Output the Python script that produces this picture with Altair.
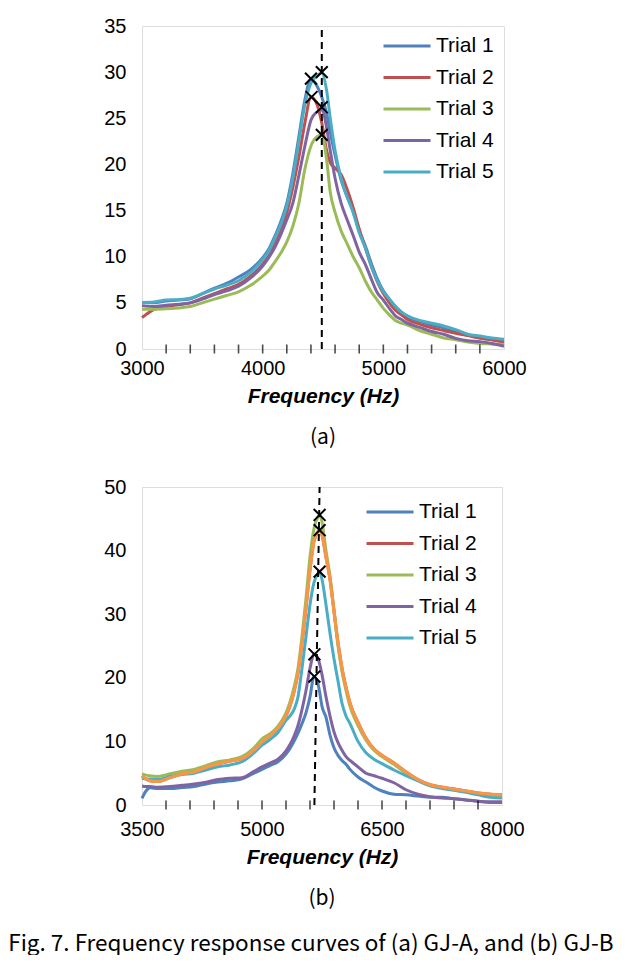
import altair as alt
import pandas as pd

trials = ["Trial 1", "Trial 2", "Trial 3", "Trial 4", "Trial 5"]
colors = ["#4F81BD", "#C0504D", "#9BBB59", "#8064A2", "#4BACC6"]
overlay_color = "#F79646"

# ---------- panel (a) GJ-A ----------
freq_a = [3000, 3100, 3200, 3300, 3400, 3500, 3600, 3700, 3800, 3900,
          4000, 4050, 4100, 4150, 4200, 4250, 4300, 4350, 4400, 4450, 4490,
          4530, 4560, 4600, 4650, 4700, 4750, 4800, 4850, 4900, 4950, 5000,
          5050, 5100, 5150, 5200,
          5300, 5400, 5500, 5600, 5700, 5800, 5900, 6000]
a_trial1 = [5.0, 5.0, 5.2, 5.3, 5.45, 6.0, 6.6, 7.1, 7.8, 8.6,
            9.9, 10.8, 12.2, 13.8, 15.8, 19.0, 23.0, 27.0, 29.25, 28.5, 27.3,
            25.5, 23.5, 21.0, 18.3, 16.5, 14.9, 12.8, 11.2, 9.3, 7.6, 6.3,
            5.4, 4.6, 4.0, 3.5,
            3.0, 2.6, 2.3, 1.9, 1.5, 1.2, 1.0, 0.9]
a_trial2 = [3.4, 4.3, 4.6, 4.8, 5.0, 5.5, 6.0, 6.5, 7.0, 7.9,
            9.2, 10.1, 11.3, 12.8, 14.8, 17.5, 20.8, 24.5, 27.3, 26.5, 24.5,
            21.5, 20.2, 19.6, 18.9, 17.3, 15.3, 13.0, 11.0, 9.0, 7.3, 6.0,
            5.0, 4.2, 3.7, 3.2,
            2.7, 2.3, 2.0, 1.7, 1.45, 1.2, 1.0, 0.7]
a_trial3 = [4.3, 4.3, 4.35, 4.45, 4.6, 5.0, 5.4, 5.8, 6.2, 6.9,
            7.9, 8.5, 9.4, 10.4, 11.6, 13.3, 15.8, 19.5, 22.0, 23.0, 23.2,
            20.5, 17.0, 14.8, 12.8, 11.4, 10.0, 8.8, 7.4, 6.2, 5.3, 4.4,
            3.7, 3.1, 2.8, 2.6,
            2.0, 1.6, 1.2, 1.0, 0.75, 0.6, 0.55, 0.5]
a_trial4 = [4.7, 4.6, 4.75, 4.85, 5.0, 5.4, 5.9, 6.3, 6.8, 7.7,
            9.0, 9.9, 11.0, 12.4, 14.0, 15.8, 18.8, 22.0, 24.8, 25.7, 25.9,
            24.0, 21.5, 18.5, 15.8, 14.0, 12.3, 10.5, 9.2, 7.6, 6.1, 5.3,
            4.4, 3.6, 3.2, 2.8,
            2.35, 1.9, 1.6, 1.15, 0.9, 0.8, 0.6, 0.3]
a_trial5 = [5.05, 5.1, 5.3, 5.35, 5.5, 6.0, 6.5, 6.9, 7.4, 8.3,
            9.7, 10.6, 12.0, 13.5, 15.5, 18.5, 22.5, 26.5, 28.8, 29.6, 29.9,
            28.0, 25.0, 21.5, 18.5, 16.5, 14.8, 12.6, 11.0, 9.0, 7.4, 6.2,
            5.4, 4.6, 4.0, 3.6,
            3.1, 2.8, 2.5, 2.1, 1.6, 1.4, 1.2, 1.05]
peak_a_freq = [4400, 4490, 4405, 4490, 4490]
peak_a_val = [29.3, 30.0, 27.3, 26.2, 23.2]
line_a = {"f_bottom": 4490, "f_top": 4490}
xticks_a_labels = [3000, 4000, 5000, 6000]
xticks_a_minor = [3200, 3400, 3600, 3800, 4000, 4200, 4400, 4600, 4800,
                  5000, 5200, 5400, 5600, 5800]
yticks_a = [0, 5, 10, 15, 20, 25, 30, 35]

# ---------- panel (b) GJ-B ----------
freq_b = [3500, 3550, 3600, 3700, 3850,
          4000, 4150, 4300, 4450, 4600, 4750, 4900,
          5000, 5100, 5200, 5300, 5350, 5400, 5450, 5500, 5550, 5600, 5650, 5700, 5720,
          5750, 5800, 5850, 5900, 5950, 6000, 6050, 6100,
          6200, 6300, 6400, 6500, 6650, 6800, 6950, 7100, 7250, 7400, 7550, 7700, 7850, 8000]
b_trial1 = [1.05, 2.2, 2.7, 2.6, 2.6,
            2.75, 2.9, 3.3, 3.6, 3.8, 4.1, 5.0,
            5.6, 6.2, 6.8, 8.0, 8.9, 10.0, 11.3, 12.8, 14.5, 17.0, 20.2, 19.0, 17.8,
            15.5, 13.8, 11.0, 9.0, 7.8, 7.0, 6.4, 5.6,
            4.4, 3.6, 2.8, 2.2, 1.7, 1.6, 1.4, 1.2, 1.2, 1.0, 0.8, 0.6, 0.4, 0.4]
b_trial2 = [4.56, 4.1, 3.8, 3.7, 4.3,
            4.9, 5.2, 5.9, 6.5, 6.9, 7.3, 8.6,
            9.9, 10.9, 12.1, 14.0, 15.6, 17.8, 20.8, 25.5, 31.0, 37.0, 41.5, 43.0, 43.2,
            42.5, 39.0, 35.5, 30.5, 25.5, 21.5, 18.5, 16.0,
            13.0, 10.5, 8.8, 7.8, 6.6, 5.2, 4.0, 3.2, 2.8, 2.5, 2.2, 1.9, 1.7, 1.6]
b_trial3 = [4.9, 4.7, 4.6, 4.5, 4.9,
            5.3, 5.6, 6.2, 6.8, 7.1, 7.6, 9.0,
            10.4, 11.2, 12.4, 14.5, 16.2, 18.5, 21.5, 26.5, 32.5, 39.0, 43.5, 45.3, 45.6,
            44.5, 40.0, 36.0, 30.5, 25.0, 21.0, 18.0, 15.5,
            12.5, 10.2, 8.6, 7.6, 6.4, 5.0, 3.9, 3.1, 2.7, 2.4, 2.1, 1.8, 1.5, 1.3]
b_trial4 = [3.0, 2.9, 2.9, 2.8, 2.9,
            3.1, 3.3, 3.6, 4.0, 4.2, 4.3, 5.3,
            6.0, 6.6, 7.2, 8.5, 9.5, 10.8, 12.5, 15.0, 18.0, 21.5, 23.7, 23.0, 22.2,
            20.5, 17.0, 14.0, 11.5, 9.8, 8.6, 7.6, 7.0,
            6.0, 5.0, 4.6, 4.2, 3.5, 2.4, 1.7, 1.3, 1.1, 1.0, 0.8, 0.6, 0.5, 0.5]
b_trial5 = [4.2, 4.1, 4.1, 4.0, 4.5,
            4.8, 5.0, 5.5, 6.0, 6.3, 6.8, 8.2,
            9.4, 10.3, 11.4, 13.3, 14.0, 15.0, 17.0, 21.5, 26.5, 31.5, 35.0, 36.4, 36.7,
            35.5, 31.5, 27.0, 23.0, 19.5, 16.0, 14.0, 12.8,
            10.0, 8.2, 7.2, 6.5, 5.5, 4.6, 3.8, 3.0, 2.6, 2.3, 2.0, 1.6, 1.2, 1.1]
peak_b_freq = [5720, 5720, 5720, 5655, 5655]
peak_b_val = [45.6, 43.2, 36.7, 23.7, 20.2]
line_b = {"f_bottom": 5655, "f_top": 5720}
xticks_b_labels = [3500, 5000, 6500, 8000]
xticks_b_minor = [3800, 4100, 4400, 4700, 5000, 5300, 5600, 5900, 6200,
                  6500, 6800, 7100, 7400, 7700]
yticks_b = [0, 10, 20, 30, 40, 50]

FONT = "Liberation Sans"
CAPFONT = "Noto Sans CJK KR"
X_PATH = "M-1,-1L1,1M-1,1L1,-1"


def long_df(freq, series):
    rows = []
    for name, vals in zip(trials, series):
        for f, v in zip(freq, vals):
            rows.append({"f": f, "v": v, "trial": name})
    return pd.DataFrame(rows)


def panel(freq, series, pk_f, pk_v, line, xlab, xminor, yvals, xdom, ydom,
          w, h, sub, leg_x, leg_y, lab_pad, overlay=None):
    df = long_df(freq, series)
    xs = alt.Scale(domain=xdom, nice=False, zero=False)
    ys = alt.Scale(domain=ydom, nice=False)
    xax = alt.Axis(values=xlab, format="d", title="Frequency (Hz)", grid=False,
                   ticks=False, domain=False, labelFontSize=20, labelColor="black",
                   labelFont=FONT, labelPadding=lab_pad, titleFont=FONT,
                   titleFontSize=21, titleFontStyle="italic", titleFontWeight="bold",
                   titleColor="black", titlePadding=7, labelFlush=False)
    yax = alt.Axis(values=yvals, title=None, grid=False, ticks=False, domain=False,
                   labelFontSize=20, labelColor="black", labelFont=FONT,
                   labelPadding=16, labelFlush=False)
    lines = alt.Chart(df).mark_line(strokeWidth=3, interpolate="monotone").encode(
        x=alt.X("f:Q", scale=xs, axis=xax),
        y=alt.Y("v:Q", scale=ys, axis=yax),
        color=alt.Color("trial:N", scale=alt.Scale(domain=trials, range=colors),
                        legend=alt.Legend(title=None, orient="none", legendX=leg_x,
                                          legendY=leg_y, symbolType="stroke",
                                          symbolSize=2209, symbolStrokeWidth=3,
                                          labelFontSize=21, labelFont=FONT,
                                          labelColor="black", clipHeight=20,
                                          rowPadding=10.5, padding=0, labelOffset=4)),
        order=alt.Order("trial:N"),
    )
    layers = [lines]
    if overlay is not None:
        odf = pd.DataFrame({"f": freq, "v": overlay})
        layers.append(alt.Chart(odf).mark_line(strokeWidth=3.2, color=overlay_color,
                                               interpolate="monotone").encode(
            x=alt.X("f:Q", scale=xs), y=alt.Y("v:Q", scale=ys)))
    ldf = pd.DataFrame({"fb": [line["f_bottom"]], "ft": [line["f_top"]],
                        "y0": [ydom[0]], "y1": [ydom[1]]})
    layers.append(alt.Chart(ldf).mark_rule(color="black", strokeWidth=2,
                                           strokeDash=[7, 5]).encode(
        x=alt.X("fb:Q", scale=xs), x2="ft:Q",
        y=alt.Y("y0:Q", scale=ys), y2="y1:Q"))
    pdf = pd.DataFrame({"f": pk_f, "v": pk_v})
    layers.append(alt.Chart(pdf).mark_point(shape=X_PATH, size=140, color="black",
                                            strokeWidth=2, filled=False,
                                            opacity=1).encode(
        x=alt.X("f:Q", scale=xs), y=alt.Y("v:Q", scale=ys)))
    tdf = pd.DataFrame({"f": xminor})
    layers.append(alt.Chart(tdf).mark_tick(color="black", thickness=1.6, size=9,
                                           orient="vertical").encode(
        x=alt.X("f:Q", scale=xs), y=alt.datum(ydom[0], scale=ys)))
    return alt.layer(*layers).properties(
        width=w, height=h,
        title=alt.TitleParams(sub, orient="bottom", font=CAPFONT, fontSize=21,
                              fontWeight="normal", color="black", offset=21,
                              anchor="middle"))


chart_a = panel(freq_a, [a_trial1, a_trial2, a_trial3, a_trial4, a_trial5],
                peak_a_freq, peak_a_val, line_a, xticks_a_labels, xticks_a_minor,
                yticks_a, [3000, 6000], [0, 35], 362, 323, "(a)", 240, 10, 9)
chart_b = panel(freq_b, [b_trial1, b_trial2, b_trial3, b_trial4, b_trial5],
                peak_b_freq, peak_b_val, line_b, xticks_b_labels, xticks_b_minor,
                yticks_b, [3500, 8000], [0, 50], 360, 318, "(b)", 223, 15, 14,
                overlay=b_trial2)

chart = alt.vconcat(chart_a, chart_b, spacing=27).resolve_legend(
    color="independent"
).resolve_scale(color="independent").properties(
    padding={"left": 0, "top": 7, "right": 0, "bottom": 0},
    title=alt.TitleParams("Fig. 7. Frequency response curves of (a) GJ-A, and (b) GJ-B",
                          orient="bottom", font=CAPFONT, fontSize=22.5,
                          fontWeight="normal", color="black", offset=23,
                          anchor="start", dx=-95),
).configure_view(stroke="black", strokeWidth=2).configure(background="white")

chart.save("out.html", embed_options={"renderer": "svg", "actions": False})
